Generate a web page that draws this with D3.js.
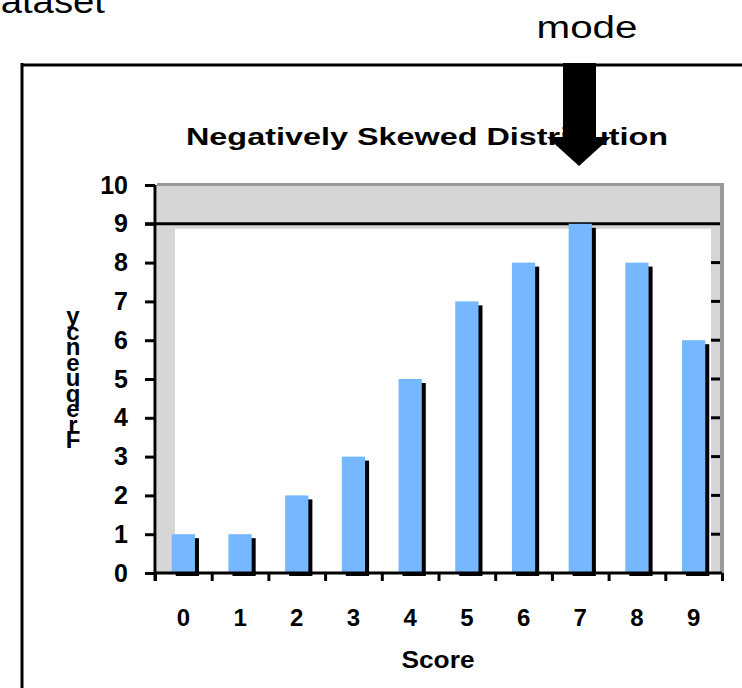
<!DOCTYPE html>
<html><head><meta charset="utf-8">
<script src="https://cdn.jsdelivr.net/npm/d3@7"></script>
<style>
html,body{margin:0;padding:0;background:#fff;}
svg{display:block;}
text{font-family:"Liberation Sans",Arial,sans-serif;}
</style></head>
<body>
<script>
const categories = ["0","1","2","3","4","5","6","7","8","9"];
const values = [1,1,2,3,5,7,8,9,8,6];
const yTicks = [0,1,2,3,4,5,6,7,8,9,10];
const titleText = "Negatively Skewed Distribution";
const xTitle = "Score";
const yTitle = "Frequency";
const annotation = "mode";
const cornerText = "Dataset";

(function(){
const W = 742, H = 688;
const svg = d3.select("body").append("svg").attr("width", W).attr("height", H);

const pLeft = 155, pRight = 722, pBottom = 573, pTop = 185;
const x = d3.scaleBand().domain(categories).range([pLeft, pRight]).padding(0);
const xEdge = d3.scaleLinear().domain([0, categories.length]).range([pLeft, pRight]);
const y = d3.scaleLinear().domain([0, 10]).range([pBottom, pTop]);

// outer frame
svg.append("line").attr("x1",22).attr("y1",65).attr("x2",W).attr("y2",65).attr("stroke","#000").attr("stroke-width",3);
svg.append("line").attr("x1",22).attr("y1",63).attr("x2",22).attr("y2",H).attr("stroke","#000").attr("stroke-width",3);

// corner text
svg.append("text").attr("x",105).attr("y",13).attr("text-anchor","end")
  .attr("font-size",33).attr("textLength",132).attr("lengthAdjust","spacingAndGlyphs").text(cornerText);

// mode
svg.append("text").attr("x",587).attr("y",38).attr("text-anchor","middle")
  .attr("font-size",31).attr("textLength",101).attr("lengthAdjust","spacingAndGlyphs").text(annotation);

// title
svg.append("text").attr("x",427).attr("y",145).attr("text-anchor","middle")
  .attr("font-size",23).attr("font-weight","bold").attr("textLength",482).attr("lengthAdjust","spacingAndGlyphs").text(titleText);

// arrow
svg.append("path").attr("d","M563,63 L596,63 L596,137 L611,137 L579,166 L547,137 L563,137 Z").attr("fill","#000");

// plot background (3D-like walls)
svg.append("rect").attr("x",157).attr("y",y(10)-2).attr("width",pRight-157+2).attr("height",pBottom-y(10)+2).attr("fill","#d6d6d6");
svg.append("rect").attr("x",157).attr("y",y(10)-2).attr("width",pRight-157+2).attr("height",3).attr("fill","#999");
svg.append("rect").attr("x",720).attr("y",y(10)-2).attr("width",4).attr("height",pBottom-y(10)+2).attr("fill","#999");
svg.append("rect").attr("x",175).attr("y",y(9)+5).attr("width",711-175).attr("height",pBottom-y(9)-5).attr("fill","#fff");
// line at 9
svg.append("line").attr("x1",pLeft-10).attr("x2",720).attr("y1",y(9)).attr("y2",y(9)).attr("stroke","#000").attr("stroke-width",3);
// right side ticks
svg.selectAll(".rt").data(yTicks.filter(d=>d>0&&d<9)).enter().append("line")
  .attr("x1",711).attr("x2",720).attr("y1",d=>y(d)).attr("y2",d=>y(d)).attr("stroke","#000").attr("stroke-width",3);

// bars: shadow + bar
const bw = x.bandwidth()*0.41;
const g = svg.append("g");
g.selectAll(".sh").data(values).enter().append("rect")
  .attr("x",(d,i)=>x(categories[i]) + (x.bandwidth()-bw)/2 + 4)
  .attr("y",d=>y(d)+4).attr("width",bw).attr("height",d=>pBottom-y(d)-1).attr("fill","#000");
g.selectAll(".bar").data(values).enter().append("rect")
  .attr("x",(d,i)=>x(categories[i]) + (x.bandwidth()-bw)/2)
  .attr("y",d=>y(d)).attr("width",bw).attr("height",d=>pBottom-y(d)).attr("fill","#76b8ff");

// y axis
const yAxis = svg.append("g").attr("transform",`translate(${pLeft},0)`)
  .call(d3.axisLeft(y).tickValues(yTicks).tickSize(10).tickPadding(17).tickFormat(d3.format("d")));
yAxis.select(".domain").attr("stroke","#000").attr("stroke-width",3).attr("d",`M0,${y(10)}V${pBottom+8}`);
yAxis.selectAll(".tick line").attr("stroke","#000").attr("stroke-width",3);
yAxis.selectAll(".tick text").attr("font-size",25).attr("font-weight","bold").attr("fill","#000")
  .attr("font-family","Liberation Sans, Arial, sans-serif");

// x axis ticks at edges
const xTickAxis = svg.append("g").attr("transform",`translate(0,${pBottom})`)
  .call(d3.axisBottom(xEdge).tickValues(d3.range(0, categories.length+1)).tickSize(8).tickFormat(""));
xTickAxis.select(".domain").attr("stroke","#000").attr("stroke-width",3).attr("d",`M${pLeft},0H${pRight}`);
xTickAxis.selectAll(".tick line").attr("stroke","#000").attr("stroke-width",3);

// x labels
const xLab = svg.append("g").attr("transform",`translate(0,${pBottom})`)
  .call(d3.axisBottom(x).tickSize(0).tickPadding(36));
xLab.select(".domain").remove();
xLab.selectAll(".tick text").attr("font-size",24).attr("font-weight","bold").attr("fill","#000")
  .attr("font-family","Liberation Sans, Arial, sans-serif");

// x title
svg.append("text").attr("x",438).attr("y",668).attr("text-anchor","middle")
  .attr("font-size",23).attr("font-weight","bold").attr("textLength",73).attr("lengthAdjust","spacingAndGlyphs").text(xTitle);

// y title: stacked reversed letters (overlapping, as in the original)
const letters = yTitle.split("").reverse();
svg.append("g").selectAll("text").data(letters).enter().append("text")
  .attr("x",73).attr("y",(d,i)=>448 - (letters.length-1-i)*15.5)
  .attr("text-anchor","middle").attr("font-size",24).attr("font-weight","bold").text(d=>d);
})();
</script>
</body></html>
